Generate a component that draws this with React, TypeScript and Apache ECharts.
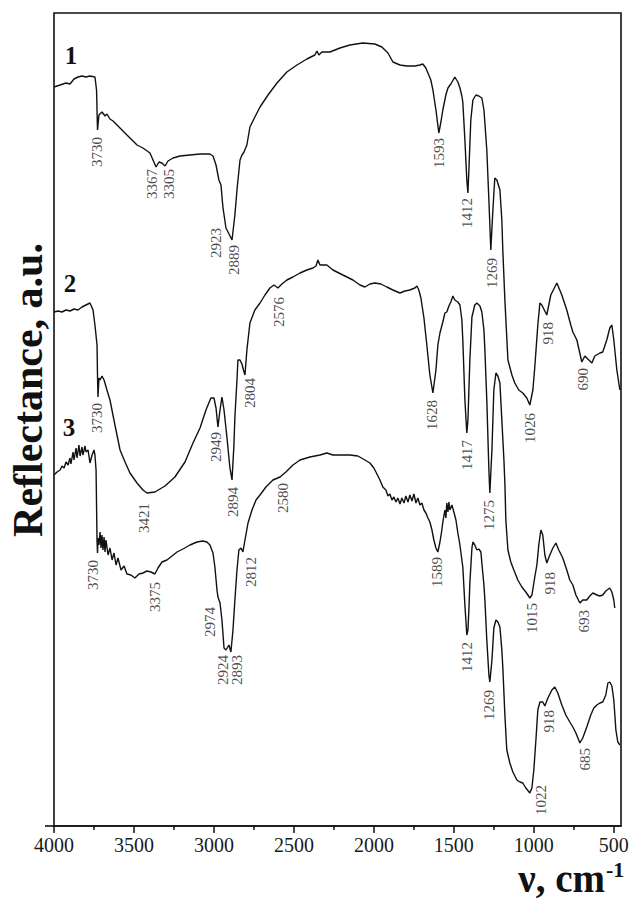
import React, { useEffect, useRef } from 'react';
import * as echarts from 'echarts';

// Wavenumber (cm-1), reflectance (a.u., offset-stacked)
const spectrum1: [number, number][] = [
  [4000, 739], [3962, 741], [3925, 743], [3900, 742], [3875, 747], [3850, 749], [3825, 750], [3800, 749],
  [3775, 750], [3744, 749], [3734, 736], [3728, 696], [3719, 711], [3700, 714], [3681, 710], [3669, 712],
  [3650, 707], [3631, 705], [3606, 701], [3575, 696], [3544, 691], [3512, 686], [3481, 681], [3444, 678],
  [3400, 673], [3381, 666], [3362, 659], [3344, 664], [3325, 663], [3306, 660], [3287, 665], [3256, 668],
  [3212, 670], [3150, 671], [3087, 672], [3025, 672], [3006, 670], [2987, 661], [2969, 646], [2956, 641],
  [2944, 619], [2925, 598], [2912, 594], [2887, 586], [2869, 611], [2856, 636], [2837, 666], [2825, 671],
  [2812, 674], [2794, 681], [2775, 699], [2744, 709], [2712, 719], [2662, 731], [2606, 743], [2544, 754],
  [2481, 761], [2419, 767], [2369, 771], [2356, 775], [2344, 771], [2325, 774], [2275, 774], [2212, 778],
  [2150, 781], [2069, 783], [1994, 782], [1950, 779], [1912, 773], [1881, 764], [1837, 761], [1794, 760],
  [1744, 760], [1712, 761], [1694, 762], [1675, 758], [1662, 753], [1644, 746], [1631, 736], [1612, 716],
  [1594, 693], [1581, 704], [1569, 716], [1550, 731], [1537, 738], [1519, 742], [1494, 749], [1475, 744],
  [1462, 738], [1450, 730], [1444, 724], [1431, 686], [1419, 646], [1412, 633], [1406, 656], [1394, 706],
  [1381, 726], [1362, 731], [1344, 730], [1325, 728], [1312, 716], [1306, 703], [1294, 676], [1281, 626],
  [1269, 576], [1256, 616], [1244, 648], [1231, 646], [1212, 636], [1200, 606], [1194, 576], [1181, 526],
  [1162, 466], [1137, 451], [1119, 443], [1094, 436], [1069, 433], [1044, 428], [1025, 421], [1006, 436],
  [994, 459], [975, 501], [962, 523], [950, 521], [919, 511], [894, 531], [856, 543], [825, 531],
  [794, 516], [769, 501], [756, 494], [731, 486], [700, 464], [681, 470], [669, 468], [656, 466],
  [637, 463], [619, 470], [587, 473], [569, 474], [544, 486], [525, 498], [512, 501], [500, 486],
  [481, 456], [462, 436],
];

const spectrum2: [number, number][] = [
  [4000, 514], [3975, 515], [3950, 514], [3925, 516], [3900, 515], [3875, 517], [3850, 516], [3825, 519],
  [3800, 521], [3775, 523], [3756, 516], [3744, 501], [3731, 481], [3728, 451], [3725, 429], [3719, 448],
  [3712, 446], [3700, 450], [3687, 446], [3669, 436], [3650, 426], [3619, 401], [3587, 376], [3556, 364],
  [3525, 353], [3481, 343], [3444, 336], [3419, 333], [3369, 334], [3306, 340], [3244, 349], [3181, 364],
  [3131, 383], [3087, 398], [3050, 416], [3019, 428], [3000, 428], [2987, 418], [2975, 399], [2962, 416],
  [2950, 429], [2937, 416], [2919, 389], [2900, 358], [2887, 346], [2875, 381], [2869, 409], [2856, 446],
  [2850, 466], [2837, 466], [2825, 462], [2812, 454], [2806, 451], [2794, 476], [2775, 503], [2744, 516],
  [2712, 523], [2681, 531], [2650, 538], [2625, 541], [2600, 538], [2575, 542], [2544, 546], [2506, 549],
  [2462, 553], [2419, 556], [2381, 558], [2362, 560], [2350, 566], [2337, 561], [2294, 561], [2256, 556],
  [2194, 551], [2131, 546], [2087, 541], [2056, 539], [2025, 542], [1994, 543], [1956, 542], [1919, 539],
  [1881, 536], [1837, 533], [1806, 535], [1775, 536], [1744, 538], [1731, 540], [1719, 536], [1706, 528],
  [1687, 508], [1669, 481], [1650, 451], [1631, 433], [1612, 456], [1600, 481], [1587, 493], [1569, 504],
  [1556, 513], [1544, 514], [1531, 520], [1519, 524], [1506, 530], [1494, 526], [1475, 524], [1462, 521],
  [1450, 506], [1444, 486], [1431, 426], [1419, 393], [1412, 406], [1400, 466], [1387, 509], [1369, 521],
  [1356, 523], [1337, 520], [1325, 514], [1312, 496], [1306, 476], [1294, 426], [1281, 356], [1275, 333],
  [1262, 376], [1250, 436], [1237, 453], [1225, 450], [1212, 443], [1200, 406], [1187, 366], [1181, 343],
  [1175, 306], [1162, 276], [1144, 264], [1125, 256], [1100, 246], [1075, 239], [1050, 234], [1025, 228],
  [1012, 231], [994, 249], [981, 261], [969, 281], [956, 296], [944, 291], [931, 271], [919, 263],
  [900, 271], [881, 278], [862, 283], [844, 276], [819, 268], [794, 256], [775, 246], [756, 241],
  [737, 231], [712, 223], [694, 226], [669, 226], [650, 230], [631, 233], [606, 231], [587, 230],
  [569, 231], [550, 235], [525, 238], [512, 234], [500, 226], [494, 218],
];

const spectrum3: [number, number][] = [
  [4000, 351], [3981, 354], [3962, 356], [3950, 360], [3937, 358], [3925, 364], [3912, 361], [3900, 368],
  [3894, 362], [3881, 374], [3875, 366], [3862, 378], [3856, 368], [3844, 381], [3837, 370], [3825, 379],
  [3819, 371], [3806, 380], [3800, 374], [3787, 376], [3775, 363], [3762, 371], [3750, 376], [3744, 371],
  [3737, 356], [3731, 286], [3728, 273], [3725, 288], [3719, 281], [3712, 294], [3706, 278], [3700, 291],
  [3694, 276], [3687, 289], [3681, 274], [3675, 286], [3662, 271], [3650, 278], [3637, 266], [3625, 273],
  [3612, 261], [3600, 268], [3581, 256], [3562, 260], [3544, 252], [3519, 251], [3494, 248], [3469, 252],
  [3444, 253], [3419, 255], [3394, 254], [3369, 252], [3350, 258], [3325, 264], [3294, 266], [3262, 270],
  [3231, 274], [3194, 277], [3150, 281], [3106, 284], [3069, 285], [3044, 284], [3025, 281], [3006, 273],
  [2994, 259], [2981, 236], [2975, 229], [2962, 223], [2950, 206], [2937, 178], [2925, 176], [2906, 181],
  [2894, 174], [2881, 196], [2869, 226], [2856, 256], [2844, 276], [2831, 278], [2819, 274], [2806, 286],
  [2787, 303], [2762, 316], [2737, 326], [2712, 331], [2675, 339], [2631, 346], [2587, 349], [2550, 354],
  [2506, 361], [2462, 366], [2400, 369], [2337, 371], [2294, 373], [2256, 371], [2212, 371], [2150, 371],
  [2100, 370], [2056, 366], [2025, 363], [2000, 358], [1981, 352], [1962, 346], [1944, 339], [1925, 336],
  [1912, 330], [1900, 332], [1887, 326], [1875, 329], [1862, 324], [1850, 328], [1837, 322], [1825, 328],
  [1812, 323], [1800, 330], [1787, 324], [1775, 331], [1762, 325], [1750, 332], [1737, 323], [1725, 328],
  [1712, 321], [1700, 323], [1687, 316], [1675, 313], [1662, 308], [1650, 304], [1637, 296], [1625, 286],
  [1612, 278], [1600, 274], [1587, 284], [1575, 296], [1569, 304], [1556, 316], [1550, 308], [1544, 323],
  [1537, 314], [1531, 324], [1525, 316], [1512, 321], [1500, 314], [1487, 306], [1475, 293], [1462, 281],
  [1450, 266], [1444, 259], [1431, 221], [1419, 191], [1412, 196], [1406, 216], [1400, 243], [1387, 278],
  [1381, 284], [1369, 281], [1356, 276], [1344, 277], [1331, 274], [1325, 263], [1312, 241], [1306, 226],
  [1294, 186], [1281, 151], [1275, 144], [1262, 166], [1250, 198], [1237, 206], [1225, 204], [1212, 199],
  [1200, 176], [1194, 159], [1181, 111], [1169, 76], [1150, 63], [1131, 54], [1106, 46], [1087, 44],
  [1069, 43], [1050, 38], [1025, 33], [1012, 38], [1000, 56], [987, 86], [975, 116], [962, 124],
  [944, 124], [931, 120], [912, 128], [887, 136], [869, 139], [850, 133], [825, 121], [800, 111],
  [775, 104], [756, 99], [737, 93], [712, 83], [694, 88], [669, 99], [644, 111], [625, 118],
  [606, 121], [587, 123], [569, 124], [550, 131], [537, 143], [525, 144], [512, 140], [500, 126],
  [487, 96], [475, 84], [462, 81],
];

// Peak annotations: [label, wavenumber of label, reflectance at label top]
const peaks1: [string, number, number][] = [
  ['3730', 3731, 689], ['3367', 3387, 657], ['3305', 3281, 657], ['2923', 2987, 598], ['2889', 2875, 581],
  ['1593', 1594, 688], ['1412', 1419, 628], ['1269', 1262, 568], ['1026', 1025, 413], ['918', 912, 504],
  ['690', 694, 458],
];
const peaks2: [string, number, number][] = [
  ['3730', 3731, 423], ['3421', 3437, 323], ['2949', 2987, 394], ['2894', 2881, 339], ['2804', 2775, 448],
  ['2576', 2594, 529], ['1628', 1637, 426], ['1417', 1419, 386], ['1275', 1281, 326], ['1015', 1012, 223],
  ['918', 900, 254], ['693', 687, 216],
];
const peaks3: [string, number, number][] = [
  ['3730', 3756, 266], ['3375', 3369, 244], ['2974', 3025, 219], ['2924', 2944, 171], ['2893', 2856, 171],
  ['2812', 2769, 269], ['2580', 2569, 343], ['1589', 1606, 269], ['1412', 1419, 184], ['1269', 1281, 136],
  ['1022', 956, 41], ['918', 906, 116], ['685', 681, 78],
];

const majorTicks = [500, 1000, 1500, 2000, 2500, 3000, 3500, 4000];
const minorTicks = [750, 1250, 1750, 2250, 2750, 3250, 3750];
const curveNames = ['1', '2', '3'];

export default function App() {
  const ref = useRef<HTMLDivElement>(null);
  useEffect(() => {
    if (!ref.current) return;
    const chart = echarts.init(ref.current, null, { renderer: 'svg' });
    const serif = "'Liberation Serif', 'Times New Roman', serif";
    const ink = '#111';
    const lineSeries = (data: [number, number][]) => ({
      type: 'line',
      data,
      symbol: 'none',
      showSymbol: false,
      silent: true,
      lineStyle: { color: ink, width: 1.4 },
      z: 3,
    });
    const labelSeries = (peaks: [string, number, number][]) => ({
      type: 'scatter',
      data: peaks.map((p) => ({ name: p[0], value: [p[1], p[2]] })),
      symbolSize: 1,
      itemStyle: { color: 'rgba(0,0,0,0)' },
      silent: true,
      z: 4,
      label: {
        show: true,
        formatter: (p: any) => p.name,
        position: 'inside',
        rotate: 90,
        align: 'right',
        verticalAlign: 'middle',
        fontFamily: serif,
        fontSize: 15,
        color: '#1a1a1a',
      },
    });
    const axisBase = {
      type: 'value',
      inverse: true,
      min: 455,
      max: 4000,
      position: 'bottom',
      splitLine: { show: false },
    };
    const curveLabelY = [55, 283, 427];
    const curveLabelX = [71, 70, 69];
    chart.setOption({
      animation: false,
      grid: {
        left: 54, right: 10, top: 13, bottom: 73,
        containLabel: false,
        outerBoundsMode: 'none',
        show: true, borderColor: ink, borderWidth: 1.6, backgroundColor: 'rgba(0,0,0,0)',
      },
      xAxis: [
        {
          ...axisBase,
          axisLine: { show: true, lineStyle: { color: ink, width: 1.6 } },
          axisTick: { show: true, inside: false, length: 7, customValues: majorTicks, lineStyle: { color: ink, width: 1.5 } },
          axisLabel: {
            show: true, customValues: majorTicks, formatter: (v: number) => String(v),
            fontFamily: serif, fontSize: 20, color: '#1a1a1a', margin: 9,
          },
        },
        {
          ...axisBase,
          axisLine: { show: false },
          axisTick: { show: true, inside: false, length: 4, customValues: minorTicks, lineStyle: { color: ink, width: 1.5 } },
          axisLabel: { show: false },
        },
      ],
      yAxis: { type: 'value', min: 0, max: 813, show: false },
      series: [
        lineSeries(spectrum1), lineSeries(spectrum2), lineSeries(spectrum3),
        labelSeries(peaks1), labelSeries(peaks2), labelSeries(peaks3),
      ],
      graphic: [
        { type: 'line', shape: { x1: 45, y1: 826, x2: 55, y2: 826 }, style: { stroke: ink, lineWidth: 1.6 } },
        ...curveNames.map((n, i) => ({
          type: 'text', x: curveLabelX[i], y: curveLabelY[i],
          style: { text: n, font: `bold 25px ${serif}`, fill: ink, textAlign: 'center', textVerticalAlign: 'middle', align: 'center', verticalAlign: 'middle' },
        })),
        {
          type: 'text', x: 28, y: 390, rotation: Math.PI / 2,
          style: { text: 'Reflectance, a.u.', font: `bold 42px ${serif}`, fill: ink, textAlign: 'center', textVerticalAlign: 'middle', align: 'center', verticalAlign: 'middle' },
        },
        {
          type: 'text', x: 605, y: 878,
          style: { text: 'ν, cm', font: `bold 39px ${serif}`, fill: ink, textAlign: 'right', textVerticalAlign: 'middle', align: 'right', verticalAlign: 'middle' },
        },
        {
          type: 'text', x: 606, y: 869,
          style: { text: '-1', font: `bold 22px ${serif}`, fill: ink, textAlign: 'left', textVerticalAlign: 'middle', align: 'left', verticalAlign: 'middle' },
        },
      ],
    });
    return () => chart.dispose();
  }, []);
  return <div ref={ref} style={{ position: 'absolute', left: 0, top: 0, width: 631, height: 899 }} />;
}
